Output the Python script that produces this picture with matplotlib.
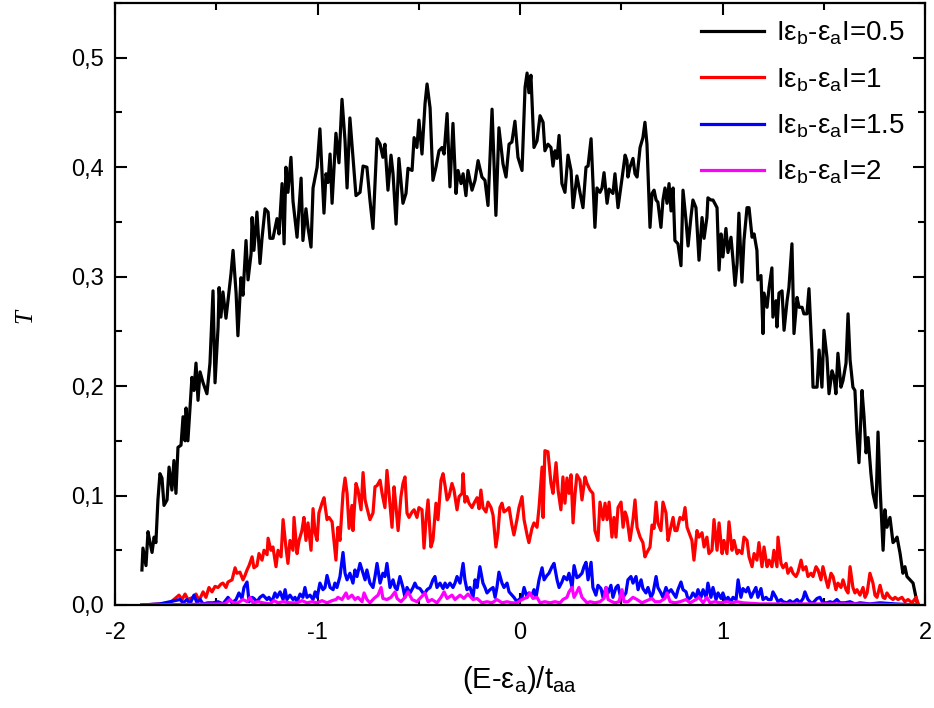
import matplotlib
matplotlib.use("Agg")
import matplotlib.pyplot as plt
from matplotlib.ticker import MultipleLocator, FuncFormatter

plt.rcParams["font.family"] = ["Liberation Sans", "DejaVu Sans"]
plt.rcParams["mathtext.fontset"] = "custom"
plt.rcParams["mathtext.rm"] = "Liberation Sans"
plt.rcParams["mathtext.it"] = "Liberation Sans:italic"
plt.rcParams["axes.unicode_minus"] = False

# Transmission T versus (E - eps_a)/t_aa for four site-energy contrasts
e_05 = [-1.867, -1.862, -1.847, -1.837, -1.827, -1.817, -1.807, -1.798, -1.788, -1.778,
        -1.768, -1.758, -1.743, -1.733, -1.719, -1.709, -1.699, -1.689, -1.674, -1.664,
        -1.654, -1.649, -1.640, -1.620, -1.610, -1.600, -1.590, -1.580, -1.565, -1.546,
        -1.531, -1.516, -1.506, -1.491, -1.486, -1.477, -1.467, -1.452, -1.442, -1.427,
        -1.417, -1.402, -1.393, -1.378, -1.368, -1.353, -1.343, -1.328, -1.323, -1.314,
        -1.299, -1.284, -1.274, -1.259, -1.244, -1.235, -1.220, -1.200, -1.190, -1.175,
        -1.165, -1.156, -1.146, -1.131, -1.121, -1.101, -1.081, -1.072, -1.057, -1.047,
        -1.032, -1.022, -1.002, -0.988, -0.968, -0.958, -0.948, -0.938, -0.928, -0.909,
        -0.894, -0.879, -0.864, -0.854, -0.840, -0.825, -0.810, -0.790, -0.775, -0.756,
        -0.741, -0.726, -0.706, -0.691, -0.677, -0.667, -0.652, -0.637, -0.627, -0.612,
        -0.598, -0.578, -0.563, -0.553, -0.533, -0.523, -0.509, -0.499, -0.484, -0.469,
        -0.459, -0.444, -0.430, -0.415, -0.400, -0.385, -0.375, -0.360, -0.346, -0.331,
        -0.316, -0.306, -0.291, -0.281, -0.267, -0.257, -0.237, -0.222, -0.207, -0.188,
        -0.173, -0.158, -0.138, -0.119, -0.104, -0.084, -0.069, -0.054, -0.040, -0.025,
        -0.010, 0.010, 0.025, 0.035, 0.044, 0.054, 0.069, 0.084, 0.099, 0.114,
        0.123, 0.138, 0.153, 0.163, 0.173, 0.183, 0.193, 0.207, 0.222, 0.237,
        0.252, 0.262, 0.281, 0.296, 0.311, 0.326, 0.336, 0.351, 0.360, 0.370,
        0.380, 0.395, 0.405, 0.415, 0.430, 0.440, 0.459, 0.469, 0.484, 0.504,
        0.519, 0.528, 0.533, 0.543, 0.558, 0.568, 0.578, 0.593, 0.607, 0.617,
        0.627, 0.642, 0.652, 0.662, 0.672, 0.681, 0.696, 0.706, 0.716, 0.726,
        0.736, 0.746, 0.756, 0.765, 0.780, 0.795, 0.805, 0.820, 0.830, 0.844,
        0.854, 0.869, 0.884, 0.899, 0.909, 0.923, 0.928, 0.943, 0.953, 0.973,
        0.983, 0.993, 1.002, 1.017, 1.027, 1.042, 1.052, 1.062, 1.072, 1.081,
        1.096, 1.106, 1.121, 1.131, 1.146, 1.156, 1.170, 1.175, 1.190, 1.200,
        1.205, 1.220, 1.230, 1.244, 1.249, 1.264, 1.269, 1.279, 1.294, 1.304,
        1.319, 1.328, 1.343, 1.353, 1.368, 1.378, 1.393, 1.402, 1.417, 1.427,
        1.442, 1.447, 1.467, 1.477, 1.491, 1.501, 1.516, 1.526, 1.541, 1.551,
        1.560, 1.570, 1.585, 1.595, 1.610, 1.620, 1.630, 1.644, 1.654, 1.664,
        1.674, 1.689, 1.699, 1.709, 1.719, 1.733, 1.743, 1.758, 1.768, 1.778,
        1.793, 1.802, 1.812, 1.827, 1.842, 1.852, 1.862, 1.877, 1.891, 1.901,
        1.911, 1.926, 1.941, 1.951, 1.960]
t_05 = [0.032, 0.052, 0.036, 0.067, 0.057, 0.048, 0.062, 0.057, 0.096, 0.120,
        0.116, 0.091, 0.096, 0.126, 0.105, 0.132, 0.102, 0.144, 0.146, 0.172,
        0.150, 0.180, 0.150, 0.208, 0.196, 0.221, 0.187, 0.213, 0.203, 0.193,
        0.221, 0.287, 0.203, 0.254, 0.290, 0.263, 0.286, 0.262, 0.278, 0.303,
        0.324, 0.285, 0.246, 0.299, 0.283, 0.333, 0.297, 0.321, 0.354, 0.324,
        0.359, 0.312, 0.335, 0.362, 0.359, 0.335, 0.335, 0.353, 0.339, 0.385,
        0.330, 0.400, 0.377, 0.409, 0.369, 0.336, 0.390, 0.333, 0.362, 0.345,
        0.327, 0.381, 0.400, 0.435, 0.358, 0.394, 0.386, 0.412, 0.367, 0.431,
        0.404, 0.462, 0.424, 0.381, 0.445, 0.409, 0.374, 0.377, 0.401, 0.400,
        0.370, 0.344, 0.426, 0.421, 0.409, 0.421, 0.379, 0.411, 0.394, 0.348,
        0.408, 0.367, 0.376, 0.399, 0.397, 0.427, 0.418, 0.443, 0.412, 0.458,
        0.476, 0.454, 0.388, 0.400, 0.415, 0.418, 0.412, 0.449, 0.382, 0.440,
        0.376, 0.397, 0.385, 0.394, 0.374, 0.397, 0.379, 0.388, 0.406, 0.391,
        0.388, 0.365, 0.453, 0.356, 0.436, 0.403, 0.391, 0.421, 0.423, 0.442,
        0.409, 0.397, 0.473, 0.486, 0.468, 0.484, 0.418, 0.424, 0.447, 0.441,
        0.415, 0.421, 0.418, 0.401, 0.415, 0.408, 0.429, 0.385, 0.377, 0.411,
        0.397, 0.363, 0.392, 0.377, 0.363, 0.400, 0.401, 0.426, 0.388, 0.345,
        0.381, 0.377, 0.381, 0.395, 0.367, 0.380, 0.376, 0.394, 0.363, 0.390,
        0.411, 0.406, 0.391, 0.400, 0.408, 0.394, 0.391, 0.418, 0.427, 0.441,
        0.421, 0.345, 0.376, 0.379, 0.370, 0.368, 0.345, 0.370, 0.381, 0.367,
        0.385, 0.360, 0.381, 0.333, 0.330, 0.310, 0.379, 0.351, 0.328, 0.354,
        0.370, 0.363, 0.315, 0.354, 0.335, 0.354, 0.372, 0.370, 0.370, 0.363,
        0.306, 0.339, 0.318, 0.344, 0.322, 0.336, 0.315, 0.292, 0.312, 0.358,
        0.295, 0.333, 0.363, 0.363, 0.336, 0.339, 0.324, 0.297, 0.301, 0.248,
        0.285, 0.272, 0.290, 0.308, 0.263, 0.278, 0.254, 0.285, 0.287, 0.251,
        0.278, 0.290, 0.330, 0.248, 0.281, 0.272, 0.272, 0.266, 0.266, 0.289,
        0.230, 0.199, 0.199, 0.233, 0.199, 0.251, 0.226, 0.193, 0.214, 0.208,
        0.193, 0.230, 0.199, 0.205, 0.221, 0.266, 0.224, 0.199, 0.196, 0.157,
        0.130, 0.196, 0.172, 0.139, 0.153, 0.120, 0.102, 0.089, 0.158, 0.108,
        0.050, 0.087, 0.071, 0.080, 0.057, 0.059, 0.062, 0.047, 0.029, 0.035,
        0.026, 0.023, 0.020, 0.011, 0.003]

e_10 = [-1.867, -1.778, -1.728, -1.684, -1.669, -1.654, -1.640, -1.615, -1.600, -1.585,
        -1.565, -1.551, -1.536, -1.521, -1.506, -1.491, -1.477, -1.467, -1.452, -1.442,
        -1.422, -1.407, -1.398, -1.383, -1.368, -1.358, -1.348, -1.338, -1.323, -1.314,
        -1.299, -1.289, -1.274, -1.264, -1.249, -1.244, -1.230, -1.220, -1.205, -1.195,
        -1.180, -1.170, -1.156, -1.146, -1.136, -1.121, -1.116, -1.101, -1.091, -1.077,
        -1.067, -1.057, -1.047, -1.032, -1.022, -1.012, -1.002, -0.993, -0.978, -0.968,
        -0.953, -0.943, -0.928, -0.919, -0.909, -0.899, -0.889, -0.874, -0.864, -0.854,
        -0.844, -0.830, -0.825, -0.810, -0.800, -0.785, -0.775, -0.765, -0.756, -0.741,
        -0.726, -0.716, -0.706, -0.691, -0.681, -0.667, -0.657, -0.647, -0.632, -0.622,
        -0.612, -0.602, -0.588, -0.578, -0.568, -0.558, -0.548, -0.533, -0.523, -0.509,
        -0.499, -0.484, -0.474, -0.464, -0.454, -0.440, -0.430, -0.415, -0.405, -0.390,
        -0.380, -0.370, -0.360, -0.351, -0.336, -0.326, -0.311, -0.301, -0.286, -0.281,
        -0.272, -0.262, -0.252, -0.237, -0.227, -0.212, -0.202, -0.193, -0.183, -0.168,
        -0.158, -0.143, -0.133, -0.119, -0.109, -0.099, -0.089, -0.079, -0.064, -0.054,
        -0.040, -0.030, -0.015, -0.005, 0.010, 0.020, 0.035, 0.044, 0.059, 0.069,
        0.084, 0.094, 0.109, 0.114, 0.123, 0.138, 0.153, 0.163, 0.178, 0.188,
        0.202, 0.212, 0.222, 0.232, 0.242, 0.252, 0.262, 0.272, 0.281, 0.296,
        0.306, 0.321, 0.331, 0.346, 0.360, 0.370, 0.385, 0.395, 0.410, 0.420,
        0.430, 0.440, 0.454, 0.464, 0.474, 0.484, 0.499, 0.509, 0.519, 0.528,
        0.543, 0.558, 0.568, 0.578, 0.593, 0.607, 0.617, 0.627, 0.642, 0.652,
        0.662, 0.672, 0.681, 0.696, 0.706, 0.721, 0.731, 0.741, 0.756, 0.765,
        0.775, 0.790, 0.805, 0.815, 0.825, 0.835, 0.849, 0.859, 0.874, 0.884,
        0.899, 0.909, 0.923, 0.933, 0.948, 0.958, 0.973, 0.983, 0.998, 1.007,
        1.022, 1.032, 1.047, 1.057, 1.072, 1.081, 1.096, 1.106, 1.121, 1.131,
        1.146, 1.156, 1.170, 1.180, 1.195, 1.205, 1.220, 1.230, 1.244, 1.254,
        1.269, 1.274, 1.289, 1.299, 1.314, 1.323, 1.338, 1.348, 1.363, 1.373,
        1.388, 1.398, 1.412, 1.422, 1.437, 1.447, 1.462, 1.472, 1.486, 1.496,
        1.511, 1.521, 1.536, 1.546, 1.560, 1.570, 1.585, 1.595, 1.610, 1.620,
        1.630, 1.644, 1.654, 1.664, 1.679, 1.694, 1.704, 1.714, 1.728, 1.743,
        1.753, 1.763, 1.778, 1.793, 1.802, 1.812, 1.827, 1.842, 1.852, 1.867,
        1.886, 1.901, 1.916, 1.936, 1.956, 1.965]
t_10 = [0.000, 0.001, 0.002, 0.009, 0.005, 0.010, 0.005, 0.007, 0.010, 0.004,
        0.012, 0.007, 0.016, 0.012, 0.017, 0.016, 0.019, 0.020, 0.016, 0.021,
        0.023, 0.034, 0.029, 0.030, 0.023, 0.027, 0.032, 0.036, 0.044, 0.034,
        0.036, 0.047, 0.041, 0.050, 0.046, 0.061, 0.050, 0.053, 0.035, 0.050,
        0.044, 0.078, 0.053, 0.038, 0.059, 0.050, 0.080, 0.047, 0.059, 0.068,
        0.080, 0.059, 0.075, 0.050, 0.088, 0.066, 0.059, 0.084, 0.093, 0.098,
        0.078, 0.080, 0.076, 0.059, 0.041, 0.071, 0.059, 0.102, 0.116, 0.102,
        0.070, 0.091, 0.068, 0.111, 0.105, 0.087, 0.121, 0.096, 0.089, 0.078,
        0.084, 0.108, 0.109, 0.114, 0.102, 0.089, 0.123, 0.102, 0.071, 0.108,
        0.089, 0.068, 0.099, 0.111, 0.117, 0.084, 0.080, 0.085, 0.087, 0.080,
        0.089, 0.087, 0.052, 0.078, 0.096, 0.053, 0.059, 0.093, 0.078, 0.114,
        0.120, 0.109, 0.096, 0.099, 0.111, 0.105, 0.087, 0.099, 0.102, 0.120,
        0.094, 0.099, 0.093, 0.089, 0.093, 0.098, 0.088, 0.105, 0.089, 0.085,
        0.094, 0.089, 0.082, 0.053, 0.066, 0.089, 0.093, 0.085, 0.087, 0.089,
        0.073, 0.064, 0.078, 0.089, 0.099, 0.078, 0.064, 0.057, 0.070, 0.075,
        0.071, 0.089, 0.126, 0.080, 0.141, 0.140, 0.111, 0.102, 0.130, 0.105,
        0.087, 0.117, 0.093, 0.116, 0.102, 0.119, 0.075, 0.102, 0.119, 0.114,
        0.096, 0.117, 0.111, 0.105, 0.102, 0.068, 0.059, 0.094, 0.078, 0.093,
        0.078, 0.094, 0.062, 0.080, 0.062, 0.089, 0.094, 0.071, 0.085, 0.080,
        0.059, 0.078, 0.096, 0.071, 0.062, 0.057, 0.044, 0.048, 0.053, 0.073,
        0.070, 0.094, 0.075, 0.068, 0.094, 0.084, 0.059, 0.068, 0.080, 0.068,
        0.068, 0.080, 0.078, 0.089, 0.071, 0.066, 0.059, 0.041, 0.068, 0.062,
        0.066, 0.053, 0.062, 0.047, 0.050, 0.078, 0.050, 0.075, 0.047, 0.059,
        0.047, 0.076, 0.050, 0.059, 0.047, 0.050, 0.047, 0.062, 0.059, 0.044,
        0.035, 0.047, 0.041, 0.057, 0.035, 0.053, 0.035, 0.041, 0.035, 0.050,
        0.035, 0.062, 0.038, 0.034, 0.038, 0.029, 0.034, 0.029, 0.026, 0.030,
        0.041, 0.032, 0.035, 0.026, 0.029, 0.026, 0.035, 0.032, 0.023, 0.035,
        0.023, 0.016, 0.029, 0.026, 0.014, 0.020, 0.016, 0.023, 0.014, 0.011,
        0.035, 0.016, 0.011, 0.014, 0.009, 0.016, 0.007, 0.011, 0.029, 0.020,
        0.009, 0.007, 0.018, 0.007, 0.006, 0.011, 0.007, 0.005, 0.007, 0.005,
        0.007, 0.003, 0.005, 0.002, 0.007, 0.002]

e_15 = [-1.867, -1.778, -1.679, -1.664, -1.644, -1.630, -1.610, -1.595, -1.580, -1.565,
        -1.541, -1.516, -1.491, -1.467, -1.442, -1.422, -1.402, -1.388, -1.373, -1.363,
        -1.348, -1.338, -1.323, -1.314, -1.299, -1.284, -1.269, -1.249, -1.240, -1.225,
        -1.210, -1.200, -1.185, -1.170, -1.160, -1.151, -1.136, -1.121, -1.111, -1.101,
        -1.086, -1.072, -1.062, -1.052, -1.037, -1.022, -1.012, -1.002, -0.988, -0.973,
        -0.963, -0.953, -0.938, -0.923, -0.914, -0.904, -0.889, -0.874, -0.864, -0.854,
        -0.840, -0.825, -0.815, -0.805, -0.790, -0.775, -0.765, -0.756, -0.741, -0.726,
        -0.716, -0.706, -0.691, -0.677, -0.667, -0.657, -0.642, -0.627, -0.617, -0.607,
        -0.593, -0.578, -0.568, -0.558, -0.543, -0.528, -0.519, -0.509, -0.494, -0.479,
        -0.469, -0.459, -0.444, -0.430, -0.420, -0.410, -0.395, -0.380, -0.370, -0.360,
        -0.346, -0.331, -0.321, -0.311, -0.296, -0.281, -0.272, -0.262, -0.247, -0.232,
        -0.222, -0.212, -0.198, -0.183, -0.173, -0.163, -0.148, -0.133, -0.123, -0.114,
        -0.104, -0.089, -0.079, -0.064, -0.054, -0.040, -0.030, -0.015, -0.005, 0.010,
        0.020, 0.035, 0.044, 0.059, 0.069, 0.079, 0.094, 0.109, 0.119, 0.133,
        0.143, 0.158, 0.168, 0.183, 0.193, 0.207, 0.217, 0.232, 0.242, 0.257,
        0.267, 0.281, 0.291, 0.306, 0.316, 0.326, 0.336, 0.351, 0.360, 0.375,
        0.385, 0.400, 0.410, 0.425, 0.435, 0.449, 0.459, 0.474, 0.484, 0.499,
        0.509, 0.523, 0.533, 0.548, 0.558, 0.573, 0.583, 0.598, 0.607, 0.622,
        0.632, 0.647, 0.657, 0.672, 0.681, 0.696, 0.706, 0.721, 0.731, 0.746,
        0.756, 0.770, 0.780, 0.795, 0.805, 0.820, 0.830, 0.844, 0.854, 0.869,
        0.879, 0.894, 0.904, 0.919, 0.928, 0.943, 0.953, 0.968, 0.978, 0.993,
        1.002, 1.017, 1.027, 1.042, 1.052, 1.067, 1.077, 1.091, 1.101, 1.116,
        1.126, 1.141, 1.151, 1.165, 1.175, 1.190, 1.200, 1.215, 1.225, 1.240,
        1.249, 1.264, 1.274, 1.289, 1.299, 1.319, 1.333, 1.348, 1.368, 1.383,
        1.398, 1.407, 1.422, 1.437, 1.447, 1.467, 1.481, 1.496, 1.516, 1.531,
        1.546, 1.565, 1.580, 1.605, 1.630, 1.654, 1.679, 1.728, 1.778, 1.852,
        1.965]
t_15 = [0.000, 0.001, 0.005, 0.002, 0.005, 0.001, 0.009, 0.002, 0.005, 0.001,
        0.002, 0.002, 0.003, 0.001, 0.007, 0.002, 0.005, 0.011, 0.006, 0.016,
        0.021, 0.003, 0.007, 0.006, 0.003, 0.007, 0.009, 0.005, 0.007, 0.003,
        0.011, 0.007, 0.012, 0.005, 0.014, 0.005, 0.009, 0.005, 0.007, 0.003,
        0.010, 0.007, 0.016, 0.007, 0.009, 0.005, 0.012, 0.007, 0.020, 0.014,
        0.016, 0.027, 0.016, 0.014, 0.020, 0.016, 0.026, 0.048, 0.029, 0.023,
        0.029, 0.020, 0.032, 0.026, 0.038, 0.029, 0.023, 0.032, 0.020, 0.016,
        0.026, 0.038, 0.020, 0.029, 0.026, 0.038, 0.016, 0.023, 0.016, 0.014,
        0.026, 0.016, 0.007, 0.016, 0.011, 0.016, 0.020, 0.016, 0.015, 0.011,
        0.011, 0.014, 0.016, 0.023, 0.026, 0.016, 0.020, 0.015, 0.020, 0.016,
        0.020, 0.016, 0.020, 0.026, 0.020, 0.038, 0.023, 0.014, 0.016, 0.007,
        0.023, 0.016, 0.035, 0.020, 0.016, 0.011, 0.014, 0.016, 0.007, 0.016,
        0.030, 0.020, 0.016, 0.020, 0.012, 0.009, 0.007, 0.003, 0.005, 0.007,
        0.016, 0.007, 0.011, 0.009, 0.014, 0.007, 0.023, 0.034, 0.023, 0.027,
        0.029, 0.035, 0.038, 0.023, 0.016, 0.021, 0.026, 0.023, 0.029, 0.016,
        0.036, 0.025, 0.026, 0.029, 0.035, 0.039, 0.023, 0.039, 0.016, 0.009,
        0.018, 0.015, 0.007, 0.016, 0.011, 0.018, 0.007, 0.016, 0.018, 0.005,
        0.007, 0.011, 0.023, 0.026, 0.020, 0.026, 0.014, 0.023, 0.015, 0.011,
        0.016, 0.007, 0.011, 0.026, 0.016, 0.011, 0.007, 0.016, 0.011, 0.014,
        0.011, 0.007, 0.014, 0.021, 0.014, 0.012, 0.005, 0.007, 0.011, 0.007,
        0.014, 0.007, 0.014, 0.007, 0.020, 0.007, 0.016, 0.005, 0.011, 0.006,
        0.011, 0.003, 0.007, 0.003, 0.007, 0.005, 0.023, 0.007, 0.015, 0.012,
        0.016, 0.007, 0.011, 0.016, 0.007, 0.015, 0.005, 0.007, 0.005, 0.005,
        0.012, 0.007, 0.003, 0.005, 0.003, 0.002, 0.004, 0.002, 0.005, 0.002,
        0.006, 0.012, 0.005, 0.002, 0.002, 0.006, 0.007, 0.002, 0.002, 0.003,
        0.002, 0.005, 0.002, 0.002, 0.003, 0.001, 0.002, 0.001, 0.002, 0.001,
        0.000]

e_20 = [-1.867, -1.457, -1.432, -1.417, -1.393, -1.368, -1.348, -1.333, -1.319, -1.294,
        -1.269, -1.235, -1.215, -1.195, -1.170, -1.136, -1.101, -1.077, -1.052, -1.027,
        -1.002, -0.978, -0.953, -0.928, -0.909, -0.899, -0.879, -0.859, -0.849, -0.830,
        -0.815, -0.800, -0.780, -0.770, -0.756, -0.741, -0.721, -0.701, -0.686, -0.677,
        -0.657, -0.637, -0.617, -0.607, -0.588, -0.568, -0.553, -0.533, -0.509, -0.489,
        -0.469, -0.454, -0.435, -0.410, -0.390, -0.375, -0.360, -0.336, -0.321, -0.296,
        -0.277, -0.257, -0.232, -0.212, -0.188, -0.163, -0.138, -0.114, -0.089, -0.064,
        -0.040, -0.015, 0.010, 0.035, 0.049, 0.064, 0.084, 0.099, 0.123, 0.148,
        0.173, 0.198, 0.212, 0.232, 0.242, 0.257, 0.267, 0.281, 0.291, 0.306,
        0.316, 0.331, 0.346, 0.370, 0.395, 0.415, 0.425, 0.435, 0.454, 0.469,
        0.489, 0.504, 0.514, 0.533, 0.558, 0.578, 0.602, 0.627, 0.652, 0.667,
        0.691, 0.716, 0.726, 0.741, 0.765, 0.790, 0.820, 0.840, 0.869, 0.884,
        0.904, 0.923, 0.938, 0.963, 0.988, 1.022, 1.047, 1.072, 1.101, 1.185,
        1.383, 1.630, 1.965]
t_20 = [0.000, 0.001, 0.005, 0.002, 0.002, 0.005, 0.003, 0.007, 0.002, 0.003,
        0.002, 0.001, 0.004, 0.002, 0.003, 0.002, 0.002, 0.004, 0.002, 0.003,
        0.002, 0.004, 0.002, 0.004, 0.005, 0.007, 0.005, 0.011, 0.006, 0.009,
        0.005, 0.007, 0.003, 0.011, 0.005, 0.002, 0.006, 0.009, 0.016, 0.006,
        0.005, 0.007, 0.012, 0.006, 0.003, 0.007, 0.012, 0.005, 0.003, 0.007,
        0.011, 0.003, 0.005, 0.002, 0.007, 0.012, 0.006, 0.009, 0.005, 0.009,
        0.006, 0.010, 0.005, 0.006, 0.002, 0.003, 0.002, 0.005, 0.002, 0.003,
        0.002, 0.002, 0.005, 0.007, 0.011, 0.006, 0.007, 0.002, 0.003, 0.002,
        0.003, 0.002, 0.005, 0.007, 0.012, 0.016, 0.007, 0.012, 0.016, 0.007,
        0.005, 0.002, 0.003, 0.002, 0.003, 0.006, 0.016, 0.005, 0.003, 0.002,
        0.003, 0.014, 0.003, 0.003, 0.007, 0.005, 0.002, 0.004, 0.006, 0.003,
        0.003, 0.006, 0.011, 0.003, 0.002, 0.003, 0.005, 0.002, 0.005, 0.007,
        0.002, 0.007, 0.002, 0.003, 0.002, 0.003, 0.002, 0.003, 0.002, 0.001,
        0.001, 0.001, 0.000]

series = [
    (e_05, t_05, "#000000", "0.5"),
    (e_10, t_10, "#ff0000", "1"),
    (e_15, t_15, "#0000ff", "1.5"),
    (e_20, t_20, "#ff00ff", "2"),
]

fig = plt.figure(figsize=(9.34, 7.08), dpi=100)
ax = fig.add_axes([115 / 934, 1 - 605 / 708, 810 / 934, 602 / 708])

for e, t, color, delta in series:
    label = "Iε$_\\mathregular{b}$-ε$_\\mathregular{a}$I=" + delta
    ax.plot(e, t, color=color, lw=2.3, label=label, solid_joinstyle="round")

ax.set_xlim(-2, 2)
ax.set_ylim(0, 0.55)
ax.xaxis.set_major_locator(MultipleLocator(1))
ax.xaxis.set_minor_locator(MultipleLocator(0.5))
ax.yaxis.set_major_locator(MultipleLocator(0.1))
ax.yaxis.set_minor_locator(MultipleLocator(0.05))
ax.yaxis.set_major_formatter(FuncFormatter(lambda v, p: f"{v:.1f}".replace(".", ",")))
ax.xaxis.set_major_formatter(FuncFormatter(lambda v, p: f"{v:.0f}"))

ax.tick_params(which="both", direction="in", top=True, right=True, width=1.5,
               labelsize=17)
ax.tick_params(which="major", length=8.5)
ax.tick_params(which="minor", length=5)
ax.tick_params(axis="x", which="major", pad=12)
ax.tick_params(axis="y", which="major", pad=8)
for sp in ax.spines.values():
    sp.set_linewidth(1.6)

ax.set_xlabel("(E-ε$_\\mathregular{a}$)/t$_\\mathregular{aa}$", fontsize=21)
ax.xaxis.set_label_coords(0.5, -0.098)
ax.set_ylabel("T", fontsize=18, family="Liberation Serif", style="italic",
              rotation=90)
ax.yaxis.set_label_coords(-0.097, 0.48)

ax.legend(loc="upper right", frameon=False, fontsize=20, handlelength=2.3,
          handletextpad=0.4, labelspacing=0.68, borderaxespad=0.2,
          bbox_to_anchor=(0.995, 1.0))

fig.savefig("out.png", dpi=100)
